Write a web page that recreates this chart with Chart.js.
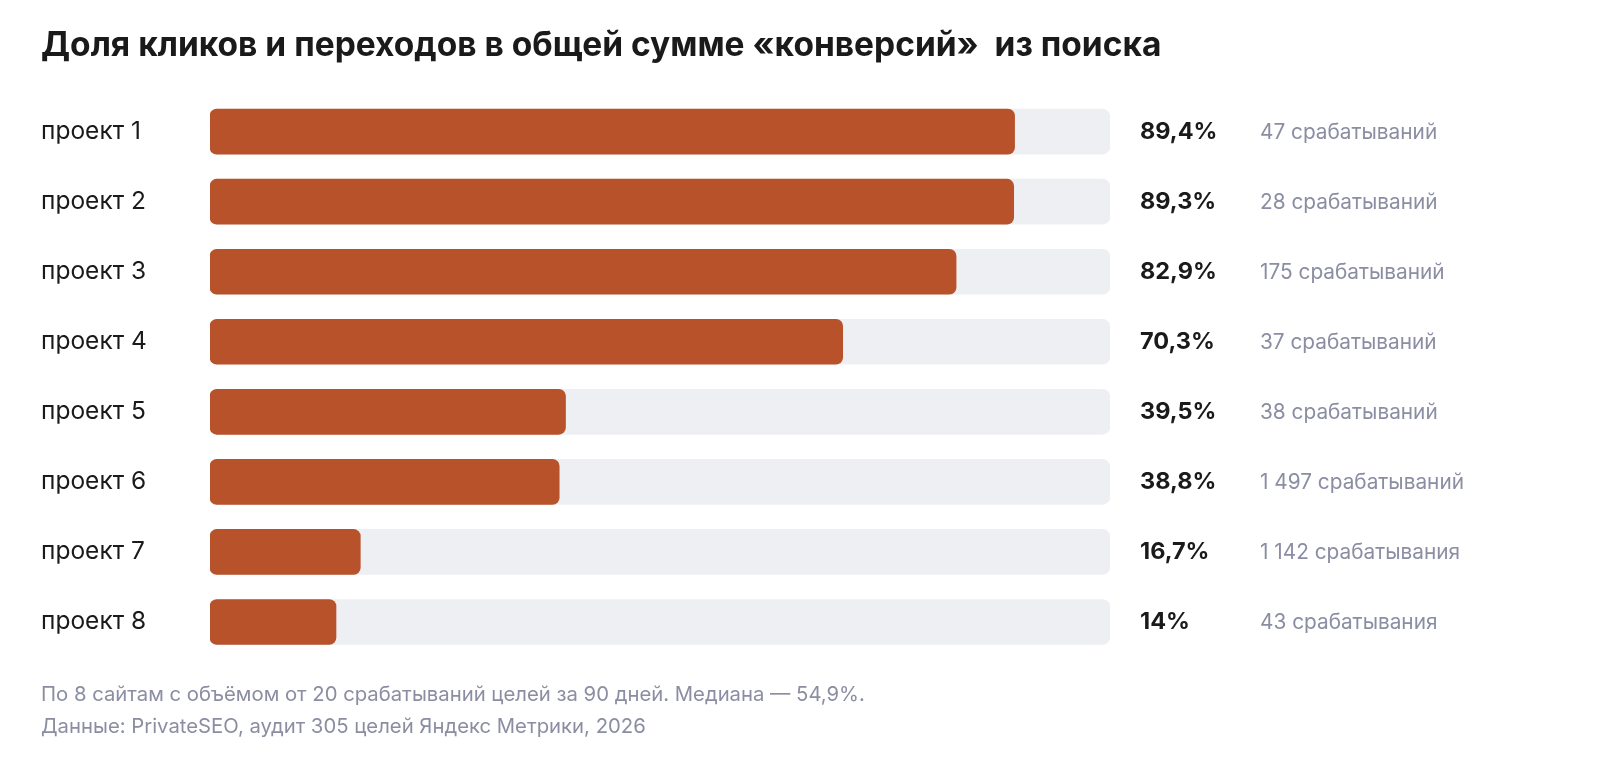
<!DOCTYPE html>
<html lang="ru">
<head>
<meta charset="utf-8">
<title>Доля кликов и переходов</title>
<script src="https://cdn.jsdelivr.net/npm/chart.js@4"></script>
<style>
  body { margin: 0; background: #fff; font-family: Inter, "Liberation Sans", sans-serif; }
  .wrap { position: relative; width: 1600px; height: 780px; }
  h1 { position: absolute; left: 41px; top: 28px; margin: 0; font-size: 33.5px; line-height: 33px; font-weight: 700; color: #1a1a1a; white-space: nowrap; }
  .note { position: absolute; left: 41px; margin: 0; font-size: 20.3px; line-height: 20px; color: #8b8ea2; white-space: nowrap; }
  .box { position: absolute; left: 0; top: 0; width: 1600px; height: 780px; }
</style>
</head>
<body>
<div class="wrap">
  <div class="box"><canvas id="myChart"></canvas></div>
  <h1>Доля кликов и переходов в общей сумме «конверсий»&nbsp; из поиска</h1>
  <p class="note" style="top:684px">По 8 сайтам с объёмом от 20 срабатываний целей за 90 дней. Медиана — 54,9%.</p>
  <p class="note" style="top:716px">Данные: PrivateSEO, аудит 305 целей Яндекс Метрики, 2026</p>
</div>
<script>
const projects = ['проект 1', 'проект 2', 'проект 3', 'проект 4', 'проект 5', 'проект 6', 'проект 7', 'проект 8'];
const shares = [89.4, 89.3, 82.9, 70.3, 39.5, 38.8, 16.7, 14];
const triggers = ['47 срабатываний', '28 срабатываний', '175 срабатываний', '37 срабатываний',
  '38 срабатываний', '1 497 срабатываний', '1 142 срабатывания', '43 срабатывания'];
const fullScale = 100;

const barColor = '#b8522b';
const trackColor = '#eeeff3';

// value + count text to the right of each track
const sideLabels = {
  id: 'sideLabels',
  afterDatasetsDraw(chart) {
    const c = chart.ctx;
    const y = chart.scales.y;
    c.save();
    c.textBaseline = 'alphabetic';
    shares.forEach((v, i) => {
      const py = y.getPixelForValue(i);
      c.font = '700 23.5px Inter';
      c.fillStyle = '#1a1a1a';
      c.fillText(v.toLocaleString('ru-RU') + '%', 1140, py + 7.5);
      c.font = '400 20.8px Inter';
      c.fillStyle = '#8b8ea2';
      c.fillText(triggers[i], 1260, py + 7);
    });
    c.restore();
  }
};

const ctx = document.getElementById('myChart');
const chart = new Chart(ctx, {
  type: 'bar',
  data: {
    labels: projects,
    datasets: [{
      data: shares,
      backgroundColor: barColor,
      borderRadius: 7,
      borderSkipped: false,
      barThickness: 45,
      grouped: false,
      order: 0
    }, {
      data: projects.map(() => fullScale),
      backgroundColor: trackColor,
      borderRadius: 8,
      borderSkipped: false,
      barThickness: 45,
      grouped: false,
      order: 1
    }]
  },
  options: {
    indexAxis: 'y',
    responsive: true,
    maintainAspectRatio: false,
    animation: false,
    layout: {
      padding: { left: 41, top: 96.6, right: 490, bottom: 123 }
    },
    plugins: {
      legend: { display: false },
      tooltip: { enabled: false }
    },
    scales: {
      x: { min: 0, max: fullScale, display: false },
      y: {
        grid: { display: false },
        border: { display: false },
        afterFit(scale) { scale.width = 169; },
        ticks: {
          crossAlign: 'far',
          padding: 0,
          color: '#1a1a1a',
          font: { family: 'Inter', size: 24.5 }
        }
      }
    }
  },
  plugins: [sideLabels]
});
</script>
</body>
</html>
